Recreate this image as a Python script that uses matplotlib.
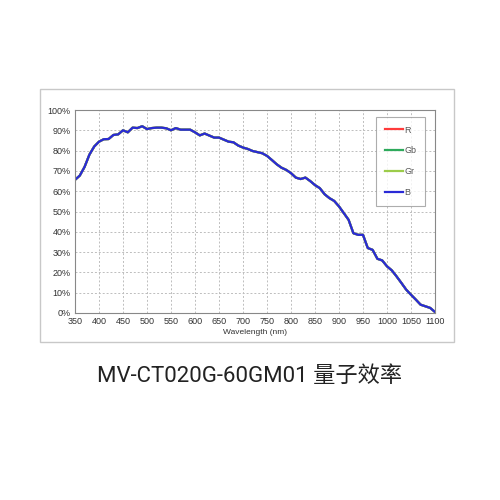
import numpy as np
import matplotlib.pyplot as plt
from matplotlib.patches import Rectangle

# quantum efficiency (%)
wavelength = [350, 360, 370, 380, 390, 400, 410, 420, 430, 440, 450, 460, 470, 480,
              490, 500, 510, 520, 530, 540, 550, 560, 570, 580, 590, 600, 610, 620,
              630, 640, 650, 660, 670, 680, 690, 700, 710, 720, 740, 750, 760, 770,
              780, 790, 800, 810, 820, 830, 840, 850, 860, 870, 880, 890, 900, 910,
              920, 930, 940, 950, 955, 960, 970, 980, 990, 1000, 1010, 1020, 1030,
              1040, 1050, 1060, 1070, 1080, 1090, 1100]
qe = [65.6, 67.7, 72.0, 78.0, 82.0, 84.4, 85.6, 85.7, 87.7, 88.0, 90.0, 89.0, 91.3, 91.1,
      92.0, 90.6, 91.1, 91.3, 91.3, 91.0, 90.0, 91.1, 90.3, 90.3, 90.3, 89.0, 87.5, 88.4,
      87.4, 86.4, 86.4, 85.4, 84.4, 84.1, 82.5, 81.5, 80.8, 79.8, 78.7, 77.4, 75.4, 73.3,
      71.6, 70.5, 68.9, 66.7, 66.0, 66.7, 65.0, 63.0, 61.5, 58.5, 56.6, 55.2, 52.5, 49.2,
      45.9, 39.3, 38.5, 38.5, 35.2, 32.0, 31.1, 26.7, 25.9, 23.0, 21.0, 18.0, 14.8,
      11.5, 9.0, 6.6, 4.1, 3.3, 2.5, 0.5]
channels = ["R", "Gb", "Gr", "B"]
colors = ["#ff3b3b", "#2eaa5c", "#9ccc4a", "#2a2ad6"]

title = "MV-CT020G-60GM01 量子效率"

plt.rcParams['font.family'] = ['Liberation Sans', 'DejaVu Sans']

fig = plt.figure(figsize=(5, 5), dpi=100)
fig.patches.append(Rectangle((0.08, 0.316), 0.828, 0.506, transform=fig.transFigure,
                             fill=False, edgecolor="#c8c8c8", linewidth=1))

ax = fig.add_axes([0.15, 0.374, 0.72, 0.406])
wl = np.array(wavelength)
q = np.array(qe) / 100
for name, c in zip(channels, colors):
    ax.plot(wl, q, color=c, lw=1.6, label=name)

ax.set_xlim(350, 1100)
ax.set_ylim(0, 1)
ax.set_xticks(np.arange(350, 1101, 50))
ax.set_yticks(np.arange(0, 1.01, 0.1))
ax.set_yticklabels([f"{int(round(v*100))}%" for v in np.arange(0, 1.01, 0.1)])
ax.tick_params(labelsize=6.5, length=0, colors="#333333", pad=3)
ax.grid(True, linestyle=(0, (2, 2)), color="#bdbdbd", lw=0.7)
for s in ax.spines.values():
    s.set_color("#888888")
    s.set_linewidth(0.8)
ax.set_xlabel("Wavelength (nm)", fontsize=6, color="#333333", labelpad=2)

leg = ax.legend(loc="upper right", fontsize=6.5, handlelength=2.0, labelspacing=1.3,
                borderpad=1.0, fancybox=False, edgecolor="#999999",
                bbox_to_anchor=(0.985, 0.99), handletextpad=0.1)
leg.get_frame().set_linewidth(0.8)
for t in leg.get_texts():
    t.set_color("#555555")

fig.text(0.5, 0.248, title, ha="center", va="center", fontsize=16,
         family=["Roboto", "Noto Sans CJK SC"], color="#222222")

fig.savefig("out.png", dpi=100)
